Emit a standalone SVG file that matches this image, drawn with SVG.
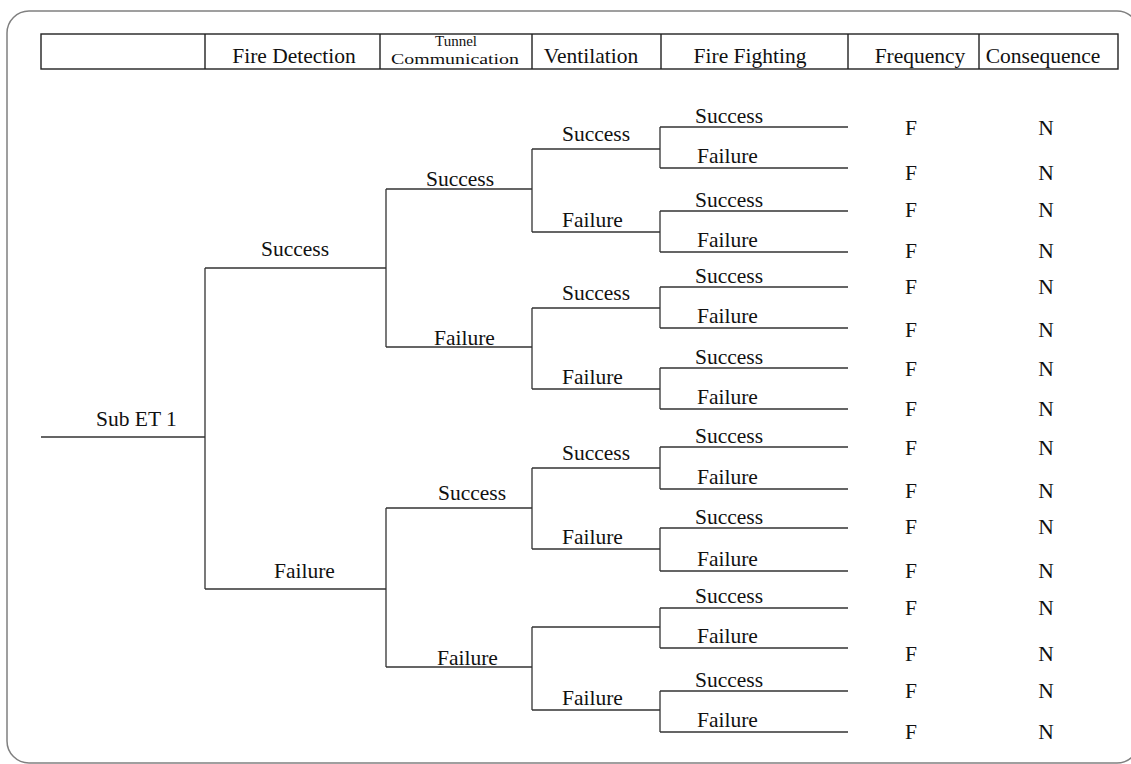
<svg xmlns="http://www.w3.org/2000/svg" width="1131" height="764" viewBox="0 0 1131 764" font-family="'Liberation Serif', Tinos, 'Times New Roman', 'DejaVu Serif', serif">
<defs>
<style>
text{font-family:'Liberation Serif',Tinos,'Times New Roman','DejaVu Serif',serif;font-size:21.5px;fill:#111;}
.c{text-anchor:middle;}
.sm{font-size:15px;}
.ln{stroke:#333;stroke-width:1.3;fill:none;}
.tb{stroke:#222;stroke-width:1.4;fill:none;}
</style>
</defs>
<rect x="7" y="11" width="1132" height="752" rx="22" ry="22" fill="#fff" stroke="#808080" stroke-width="1.5"/>
<g id="header">
<rect class="tb" x="41" y="34" width="1077" height="35"/>
<path class="tb" d="M205,34V69M380,34V69M532,34V69M661,34V69M848,34V69M979,34V69"/>
<text class="c" x="294" y="63">Fire Detection</text>
<text class="c sm" x="456" y="46">Tunnel</text>
<text class="c sm" x="455" y="64" textLength="128" lengthAdjust="spacingAndGlyphs">Communication</text>
<text class="c" x="591" y="63">Ventilation</text>
<text class="c" x="750" y="63">Fire Fighting</text>
<text class="c" x="920" y="63">Frequency</text>
<text class="c" x="1043" y="63">Consequence</text>
</g>
<g id="connectors">
<path class="ln" d="M41,437H205M205,268V589"/>
<path class="ln" d="M205,268H386M205,589H386"/>
<path class="ln" d="M386,189V347M386,189H532M386,347H532M386,508V667M386,508H532M386,667H532"/>
<path class="ln" d="M532,149V232M532,149H660M532,232H660M532,308V389M532,308H660M532,389H660M532,468V549M532,468H660M532,549H660M532,627V710M532,627H660M532,710H660"/>
<path class="ln" d="M660,127V168M660,127H848M660,168H848M660,211V252M660,211H848M660,252H848M660,287V328M660,287H848M660,328H848M660,368V409M660,368H848M660,409H848M660,447V489M660,447H848M660,489H848M660,528V571M660,528H848M660,571H848M660,608V648M660,608H848M660,648H848M660,691V732M660,691H848M660,732H848"/>
</g>
<g id="root"><text x="96" y="426">Sub ET 1</text></g>
<g id="level1">
<text x="261" y="256">Success</text>
<text x="274" y="578">Failure</text>
</g>
<g id="level2">
<text x="426" y="186">Success</text>
<text x="434" y="345">Failure</text>
<text x="438" y="500">Success</text>
<text x="437" y="665">Failure</text>
</g>
<g id="level3">
<text x="562" y="141">Success</text>
<text x="562" y="227">Failure</text>
<text x="562" y="300">Success</text>
<text x="562" y="384">Failure</text>
<text x="562" y="460">Success</text>
<text x="562" y="544">Failure</text>
<text x="562" y="705">Failure</text>
</g>
<g id="level4">
<text x="695" y="123">Success</text>
<text x="697" y="163">Failure</text>
<text x="695" y="207">Success</text>
<text x="697" y="247">Failure</text>
<text x="695" y="283">Success</text>
<text x="697" y="323">Failure</text>
<text x="695" y="364">Success</text>
<text x="697" y="404">Failure</text>
<text x="695" y="443">Success</text>
<text x="697" y="484">Failure</text>
<text x="695" y="524">Success</text>
<text x="697" y="566">Failure</text>
<text x="695" y="603">Success</text>
<text x="697" y="643">Failure</text>
<text x="695" y="687">Success</text>
<text x="697" y="727">Failure</text>
</g>
<g id="frequency">
<text class="c" x="911" y="135">F</text>
<text class="c" x="911" y="180">F</text>
<text class="c" x="911" y="217">F</text>
<text class="c" x="911" y="258">F</text>
<text class="c" x="911" y="294">F</text>
<text class="c" x="911" y="337">F</text>
<text class="c" x="911" y="376">F</text>
<text class="c" x="911" y="416">F</text>
<text class="c" x="911" y="455">F</text>
<text class="c" x="911" y="498">F</text>
<text class="c" x="911" y="534">F</text>
<text class="c" x="911" y="578">F</text>
<text class="c" x="911" y="615">F</text>
<text class="c" x="911" y="661">F</text>
<text class="c" x="911" y="698">F</text>
<text class="c" x="911" y="739">F</text>
</g>
<g id="consequence">
<text class="c" x="1046" y="135">N</text>
<text class="c" x="1046" y="180">N</text>
<text class="c" x="1046" y="217">N</text>
<text class="c" x="1046" y="258">N</text>
<text class="c" x="1046" y="294">N</text>
<text class="c" x="1046" y="337">N</text>
<text class="c" x="1046" y="376">N</text>
<text class="c" x="1046" y="416">N</text>
<text class="c" x="1046" y="455">N</text>
<text class="c" x="1046" y="498">N</text>
<text class="c" x="1046" y="534">N</text>
<text class="c" x="1046" y="578">N</text>
<text class="c" x="1046" y="615">N</text>
<text class="c" x="1046" y="661">N</text>
<text class="c" x="1046" y="698">N</text>
<text class="c" x="1046" y="739">N</text>
</g>
</svg>
